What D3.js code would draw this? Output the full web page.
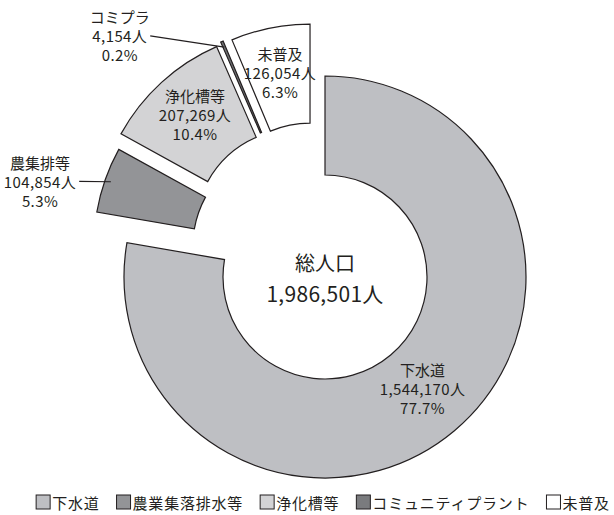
<!DOCTYPE html>
<html>
<head>
<meta charset="utf-8">
<script src="https://cdn.jsdelivr.net/npm/d3@7.9.0/dist/d3.min.js"></script>
<style>
  html, body { margin: 0; padding: 0; background: #fff; }
  svg { display: block; font-family: "Noto Sans CJK JP", "Noto Sans", sans-serif; }
  text { fill: #231f20; }
  .num { font-family: "Liberation Sans Narrow", "Noto Sans CJK JP", sans-serif; }
</style>
</head>
<body>
<svg id="chart" width="614" height="515"></svg>
<script>
// data
const categories = ['下水道', '農業集落排水等', '浄化槽等', 'コミュニティプラント', '未普及'];
const shortNames = ['下水道', '農集排等', '浄化槽等', 'コミプラ', '未普及'];
const population = [1544170, 104854, 207269, 4154, 126054];
const totalTitle = '総人口';

// look
const colors = ['#bebfc3', '#939497', '#d3d3d5', '#6f7073', '#ffffff'];
const legendColors = ['#bebfc3', '#939497', '#d3d3d5', '#7a7b7e', '#ffffff'];
const explodeDist = [0, 43, 54, 56, 54];
const explodeDir = [0, 315.5, 328.8, 334.8, 343.9];   // degrees, clockwise from top
const labelMode = ['inside', 'outside', 'inside', 'outside', 'inside'];
const outLabelDir = [0, 284.3, 0, 316.4, 0];
const outLabelRadius = 263;

const cx = 325, cy = 277;
const outerR = 201, innerR = 102;
const stroke = '#231f20';

const svg = d3.select('#chart');
const g = svg.append('g').attr('transform', `translate(${cx},${cy})`);

const total = d3.sum(population);
const data = categories.map((c, i) => ({ name: c, short: shortNames[i], value: population[i], i }));

const pie = d3.pie().sort(null).value(d => d.value).startAngle(0).endAngle(2 * Math.PI);
const arc = d3.arc().innerRadius(innerR).outerRadius(outerR);
const arcs = pie(data);

const rad = deg => deg * Math.PI / 180;
function offsetOf(i) {
  const a = rad(explodeDir[i]);
  return [explodeDist[i] * Math.sin(a), -explodeDist[i] * Math.cos(a)];
}

const fmtNum = d3.format(',');
const fmtPct = v => (v * 100).toFixed(1) + '%';

const slices = g.selectAll('g.slice')
  .data(arcs)
  .join('g')
  .attr('class', 'slice')
  .attr('transform', d => {
    const [dx, dy] = offsetOf(d.data.i);
    return `translate(${dx},${dy})`;
  });

slices.append('path')
  .attr('d', arc)
  .attr('fill', d => colors[d.data.i])
  .attr('stroke', stroke)
  .attr('stroke-width', 1.2)
  .attr('stroke-linejoin', 'miter');

const lineH = 19;
function labelLines(d) {
  return [d.data.short, fmtNum(d.data.value) + '人', fmtPct(d.data.value / total)];
}

slices.each(function (d) {
  const s = d3.select(this);
  const i = d.data.i;
  let lx, ly;
  if (labelMode[i] === 'inside') {
    [lx, ly] = arc.centroid(d);
    ly -= 4;
  } else {
    const a = rad(outLabelDir[i]);
    lx = outLabelRadius * Math.sin(a);
    ly = -outLabelRadius * Math.cos(a);
  }
  const t = s.append('text')
    .attr('text-anchor', 'middle')
    .attr('font-size', 15);
  labelLines(d).forEach((txt, k) => {
    t.append('tspan')
      .attr('class', k > 0 ? 'num' : null)
      .attr('x', lx)
      .attr('y', ly + (k - 1) * lineH)
      .attr('dominant-baseline', 'central')
      .attr('letter-spacing', k > 0 ? 0.4 : 0)
      .text(txt);
  });
  if (labelMode[i] === 'outside') {
    const w = t.selectAll('tspan').nodes()[1].getComputedTextLength();
    const mid = (d.startAngle + d.endAngle) / 2;
    const r = outerR - 6;
    s.append('line')
      .attr('x1', lx + w / 2 + 3)
      .attr('y1', ly)
      .attr('x2', r * Math.sin(mid))
      .attr('y2', -r * Math.cos(mid))
      .attr('stroke', stroke)
      .attr('stroke-width', 1.1);
  }
});

// centre text
g.append('text')
  .attr('text-anchor', 'middle')
  .attr('dominant-baseline', 'central')
  .attr('y', -15)
  .attr('font-size', 20)
  .text(totalTitle);
g.append('text')
  .attr('class', 'num')
  .attr('text-anchor', 'middle')
  .attr('dominant-baseline', 'central')
  .attr('y', 16)
  .attr('font-size', 21)
  .attr('letter-spacing', 0.3)
  .text(fmtNum(total) + '人');

// legend
const legend = svg.append('g').attr('class', 'legend');
const sw = 14, swGap = 2, itemGap = 17;
let x = 0;
categories.forEach((c, i) => {
  const item = legend.append('g').attr('transform', `translate(${x},0)`);
  item.append('rect')
    .attr('x', 0).attr('y', -sw / 2)
    .attr('width', sw).attr('height', sw)
    .attr('fill', legendColors[i])
    .attr('stroke', stroke)
    .attr('stroke-width', 1);
  const t = item.append('text')
    .attr('x', sw + swGap)
    .attr('dominant-baseline', 'central')
    .attr('font-size', 15)
    .attr('letter-spacing', 0.8)
    .text(c);
  x += sw + swGap + t.node().getComputedTextLength() + itemGap;
});
const legendW = x - itemGap;
legend.attr('transform', `translate(${323 - legendW / 2},502)`);
</script>
</body>
</html>
